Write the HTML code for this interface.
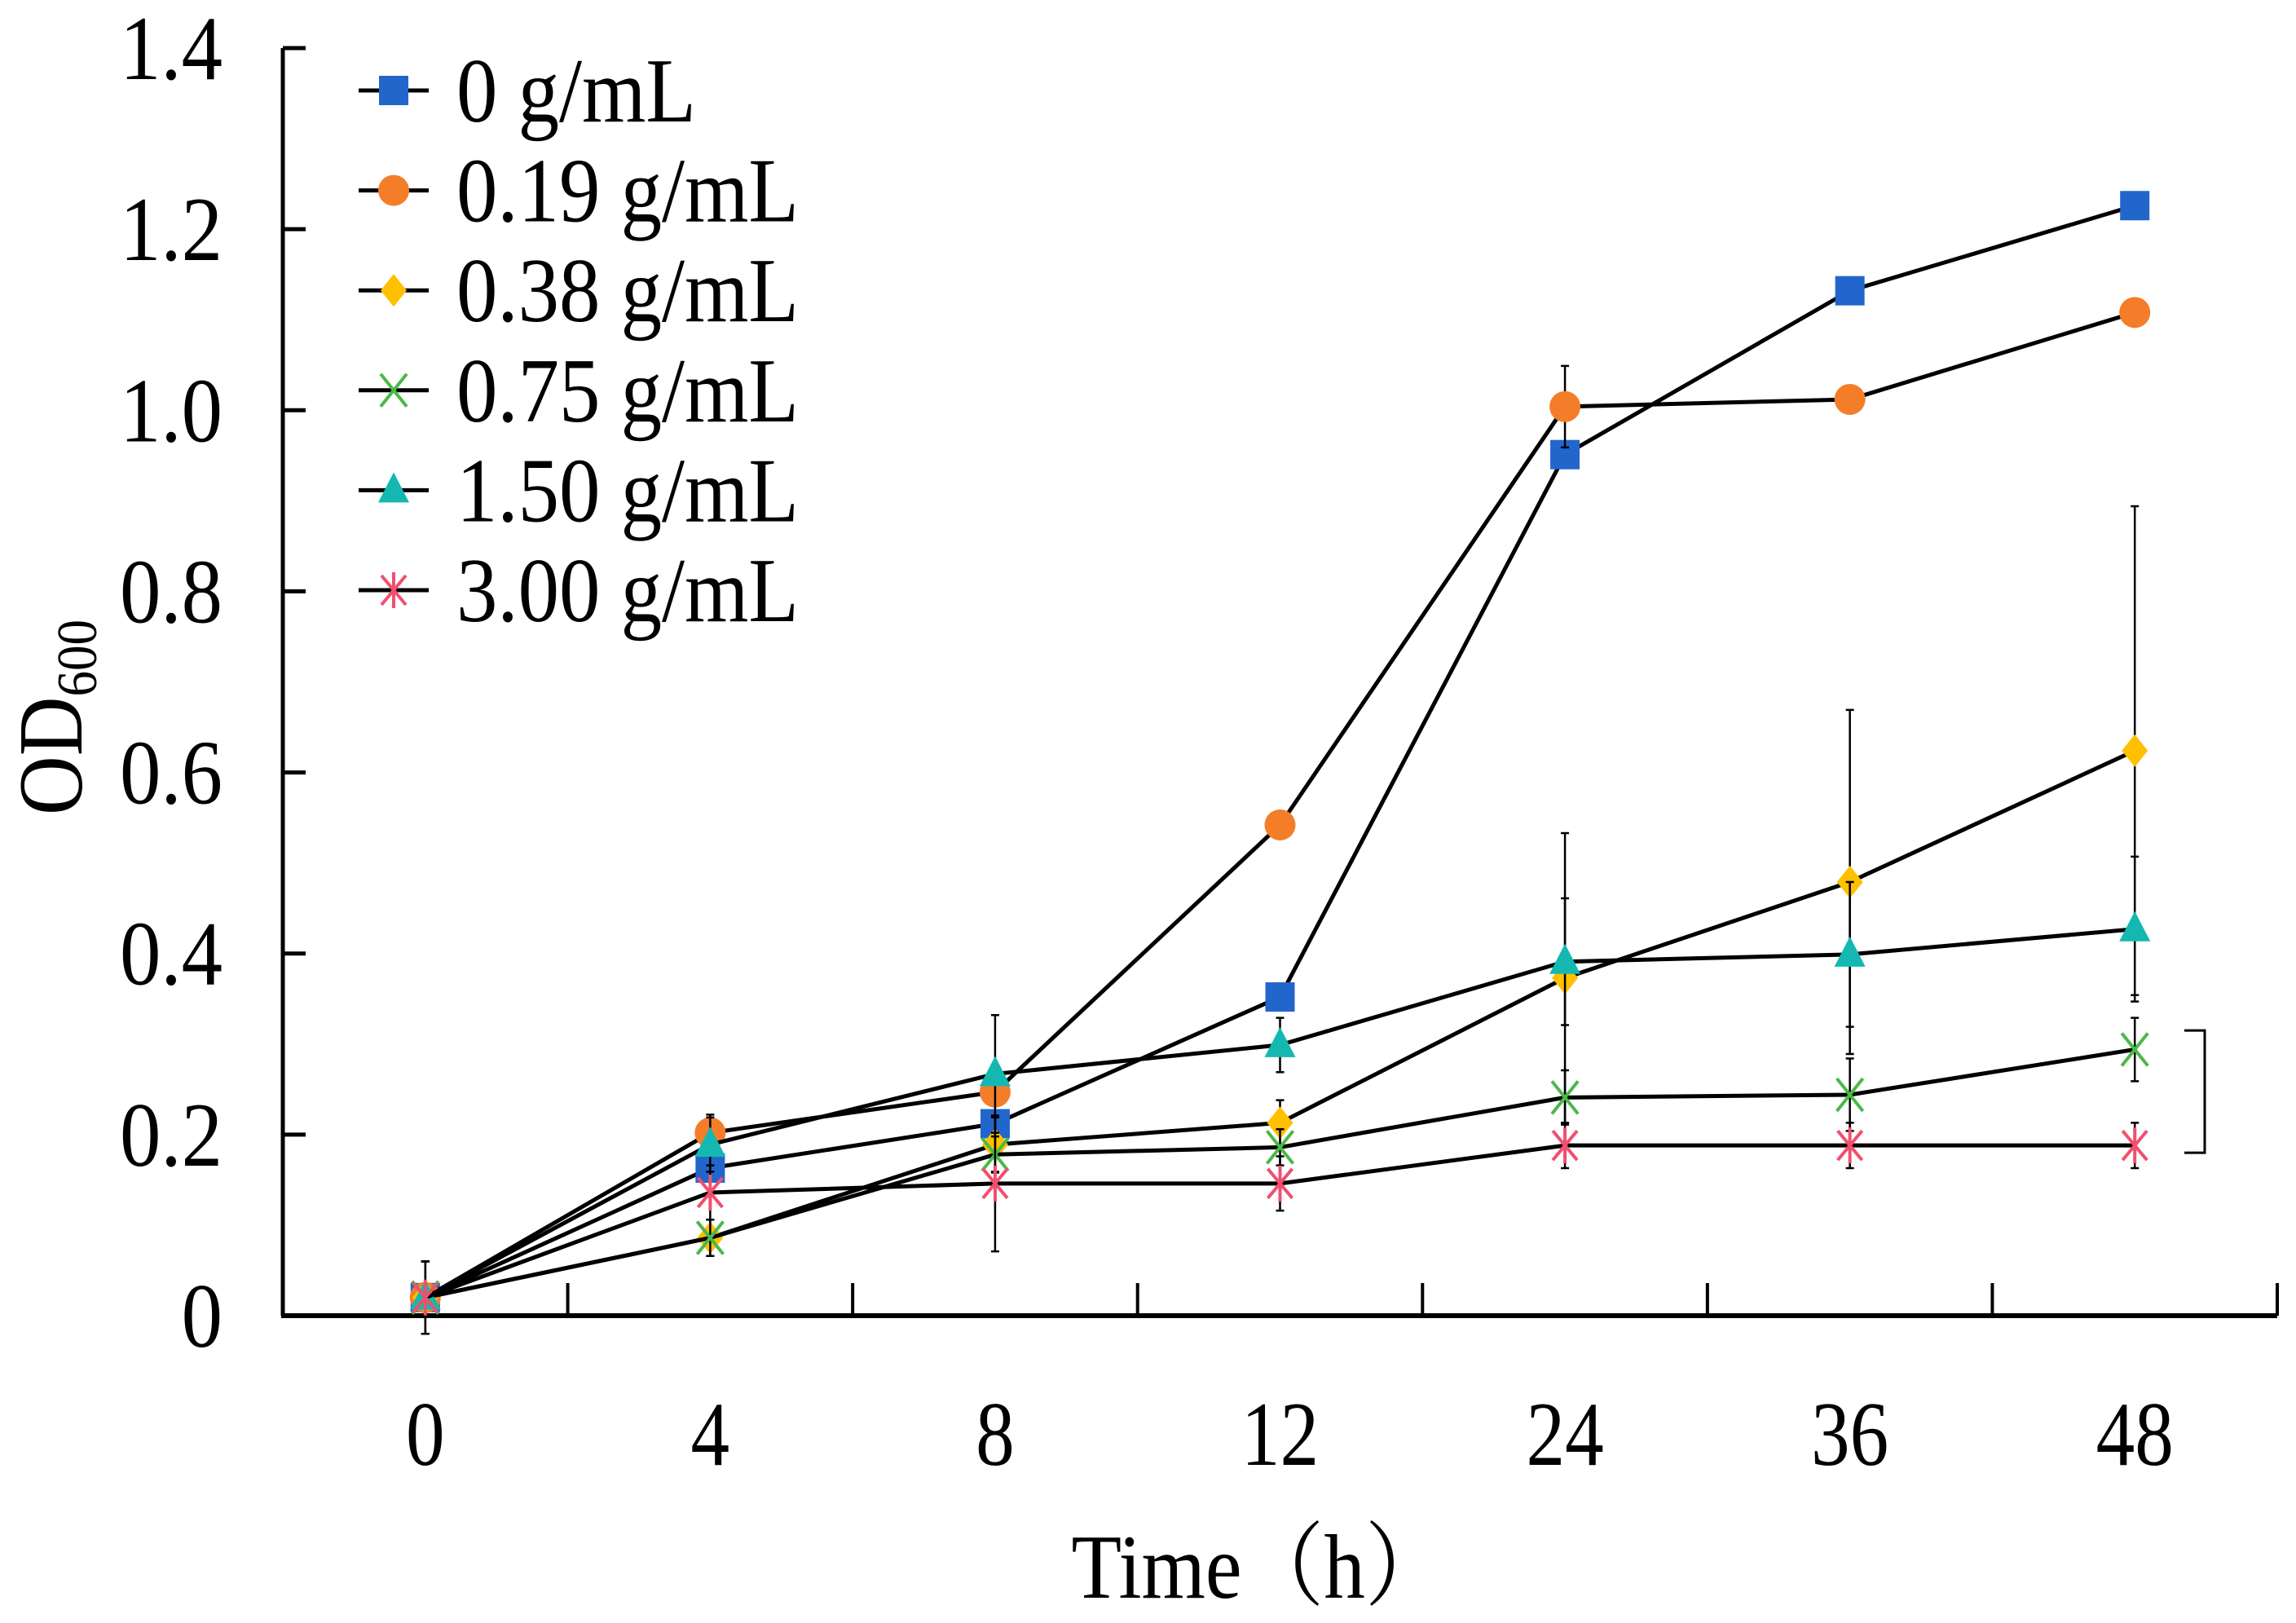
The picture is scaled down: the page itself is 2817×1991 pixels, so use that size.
<!DOCTYPE html>
<html><head><meta charset="utf-8"><style>
html,body{margin:0;padding:0;background:#fff;}
svg{display:block;}
text{font-family:"Liberation Serif","Noto Serif CJK SC",serif;fill:#000;}
</style></head>
<body>
<svg id="chart" width="2817" height="1991" viewBox="0 0 2817 1991" xmlns="http://www.w3.org/2000/svg">
<rect width="2817" height="1991" fill="#fff"/>
</svg>
<script>
const categories = ["0","4","8","12","24","36","48"];
const yTicks = [0,0.2,0.4,0.6,0.8,1.0,1.2,1.4];
const yTickLabels = ["0","0.2","0.4","0.6","0.8","1.0","1.2","1.4"];
const seriesNames = ["0 g/mL","0.19 g/mL","0.38 g/mL","0.75 g/mL","1.50 g/mL","3.00 g/mL"];
const s0 = [0.02,0.163,0.212,0.352,0.951,1.132,1.226];
const s019 = [0.02,0.202,0.247,0.542,1.004,1.012,1.108];
const s038 = [0.02,0.086,0.189,0.213,0.373,0.479,0.624];
const s075 = [0.02,0.086,0.178,0.186,0.241,0.244,0.294];
const s150 = [0.02,0.189,0.267,0.299,0.391,0.399,0.427];
const s300 = [0.02,0.136,0.146,0.146,0.188,0.188,0.188];
const e0 = [0.04,0.01,0.01,0.01,0.01,0.005,0.005];
const e019 = [0.04,0.02,0.01,0.01,0.045,0.01,0.015];
const e038 = [0.04,0.02,0.03,0.025,0.16,0.19,0.27];
const e075 = [0.04,0.02,0.02,0.02,0.03,0.04,0.035];
const e150 = [0.04,0.03,0.065,0.03,0.07,0.08,0.08];
const e300 = [0.04,0.03,0.075,0.03,0.025,0.025,0.025];

const NS="http://www.w3.org/2000/svg";
const svg=document.getElementById('chart');
const X0=347,X1=2794,Y0=1614,YTOP=59,YMAX=1.4;
const band=(X1-X0)/categories.length;
function xs(i){return X0+band*(i+0.5);}
function ys(v){return Y0-(v/YMAX)*(Y0-YTOP);}
function mk(tag,attrs,parent){const e=document.createElementNS(NS,tag);for(const k in attrs)e.setAttribute(k,attrs[k]);(parent||svg).appendChild(e);return e;}

// axes
const yAxis=mk('line',{x1:X0,y1:YTOP,x2:X0,y2:Y0,stroke:'#000','stroke-width':5});


const xAxis=mk('line',{x1:X0-2,y1:Y0,x2:X1,y2:Y0,stroke:'#000','stroke-width':6});


yTicks.forEach((v,i)=>{
  const t=mk('line',{x1:X0,y1:ys(v),x2:X0+28,y2:ys(v),stroke:'#000','stroke-width':5});
  
  
  const l=mk('text',{x:0,y:0,'font-size':112,'text-anchor':'end',transform:`translate(273,${ys(v)+38}) scale(0.9,1)`});
  l.textContent=yTickLabels[i];
  
  
});
for(let i=1;i<=categories.length;i++){
  const x=X0+band*i;
  const t=mk('line',{x1:x,y1:Y0,x2:x,y2:Y0-40,stroke:'#000','stroke-width':4});
  
  
}
categories.forEach((c,i)=>{
  const l=mk('text',{x:0,y:0,'font-size':112,'text-anchor':'middle',transform:`translate(${xs(i)},1797) scale(0.85,1)`});
  l.textContent=c;
  
  
});
const xt=mk('text',{x:0,y:0,'font-size':112,'text-anchor':'middle',transform:'translate(1545,1960) scale(0.9,1)'});
xt.textContent='Time（h）';


const yt=mk('text',{x:0,y:0,'font-size':112,'text-anchor':'middle',transform:'translate(100,880) rotate(-90) scale(0.9,1)'});


const ts1=mk('tspan',{},yt);ts1.textContent='OD';
const ts2=mk('tspan',{'font-size':70,dy:18},yt);ts2.textContent='600';

const series=[s0,s019,s038,s075,s150,s300];
const errs=[e0,e019,e038,e075,e150,e300];
const colors=['#2266cc','#f47d2a','#ffc000','#4cb848','#14b8b0','#f0506e'];
const shapes=['square','circle','diamond','x','triangle','star'];

function marker(shape,x,y,color,g){
  let m;
  if(shape==='square') m=mk('rect',{x:x-18,y:y-18,width:36,height:36,fill:color},g);
  else if(shape==='circle') m=mk('circle',{cx:x,cy:y,r:19,fill:color},g);
  else if(shape==='diamond') m=mk('polygon',{points:`${x},${y-20} ${x+16},${y} ${x},${y+20} ${x-16},${y}`,fill:color},g);
  else if(shape==='triangle') m=mk('polygon',{points:`${x},${y-22} ${x+19},${y+15} ${x-19},${y+15}`,fill:color},g);
  else if(shape==='x') m=mk('path',{d:`M${x-16} ${y-20}L${x+16} ${y+20}M${x+16} ${y-20}L${x-16} ${y+20}`,stroke:color,'stroke-width':4,fill:'none'},g);
  else m=mk('path',{d:`M${x-15} ${y-18}L${x+15} ${y+18}M${x+15} ${y-18}L${x-15} ${y+18}M${x} ${y-22}L${x} ${y+22}`,stroke:color,'stroke-width':4,fill:'none'},g);
  return m;
}

series.forEach((s,si)=>{
  const g=mk('g',{});
  
  
  // error bars
  s.forEach((v,i)=>{
    const e=errs[si][i];
    const eb=mk('path',{d:`M${xs(i)} ${ys(v+e)}L${xs(i)} ${ys(v-e)}M${xs(i)-5} ${ys(v+e)}L${xs(i)+5} ${ys(v+e)}M${xs(i)-5} ${ys(v-e)}L${xs(i)+5} ${ys(v-e)}`,stroke:'#000','stroke-width':2.5,fill:'none'},g);
    
    
  });
  const pl=mk('polyline',{points:s.map((v,i)=>xs(i)+','+ys(v)).join(' '),fill:'none',stroke:'#000','stroke-width':5,'stroke-linejoin':'round'},g);
  
  
  s.forEach((v,i)=>{
    const m=marker(shapes[si],xs(i),ys(v),colors[si],g);
    
    
  });
});

// bracket
const br=mk('path',{d:`M2680 ${ys(0.315)}L2705 ${ys(0.315)}L2705 ${ys(0.18)}L2680 ${ys(0.18)}`,stroke:'#000','stroke-width':3,fill:'none'});



// legend
const lg=mk('g',{});


seriesNames.forEach((n,i)=>{
  const y=111+i*122.6;
  const e=mk('g',{},lg);
  
  
  mk('line',{x1:440,y1:y,x2:526,y2:y,stroke:'#000','stroke-width':5},e);
  marker(shapes[i],483,y,colors[i],e);
  const t=mk('text',{x:0,y:0,'font-size':112,transform:`translate(560,${y+38}) scale(0.9,1)`},e);
  t.textContent=n;
});
</script>
</body></html>
